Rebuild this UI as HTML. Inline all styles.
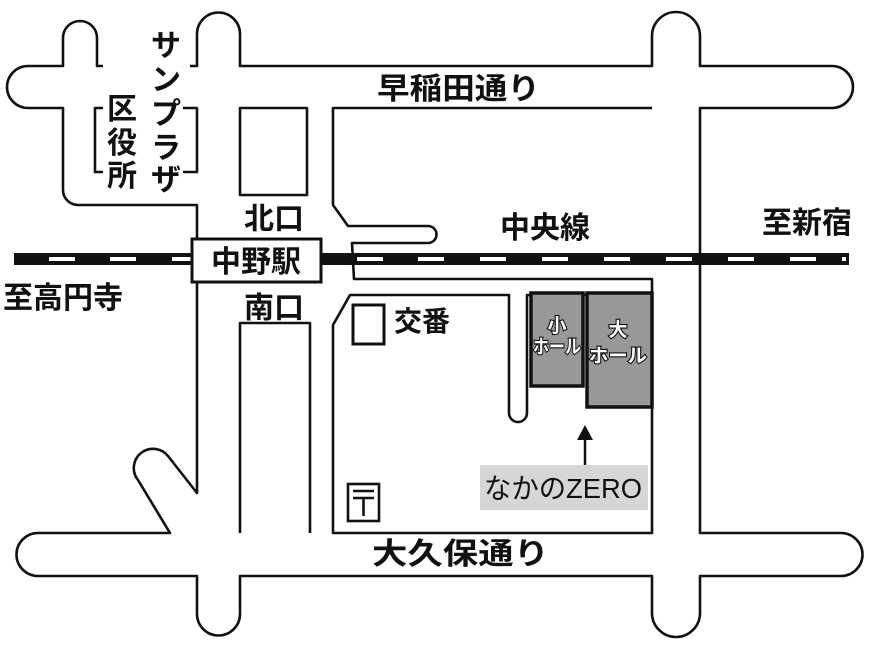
<!DOCTYPE html>
<html><head><meta charset="utf-8"><style>
html,body{margin:0;padding:0;background:#fff;}
svg{display:block;}
text{font-family:"Liberation Sans","Noto Sans CJK JP",sans-serif;fill:#111;}
.h{fill:#fff;stroke:#111;stroke-width:2.2px;paint-order:stroke;font-size:19px;font-weight:bold;}
</style></head><body>
<svg width="875" height="647" viewBox="0 0 875 647" xmlns="http://www.w3.org/2000/svg">
<g fill="none" stroke="#111" stroke-width="2.6" stroke-linejoin="round">
<path d="M103,66 H97 V38 A17,17 0 0 0 63,38 V66 H28 A21,21 0 0 0 28,108 H63 V190 A15,15 0 0 0 78,205 H197 V238"/>
<path d="M190,66 H197 V34 A21.5,21.5 0 0 1 240,34 V66 H652 V36 A24,24 0 0 1 700,36 V66 H832 A21,21 0 0 1 832,108 H700 V533 H841 A21.5,21.5 0 0 1 841,576 H700 V613 A24,24 0 0 1 652,613 V576 H240 V614 A21.5,21.5 0 0 1 197,614 V576 H38 A21.5,21.5 0 0 1 38,533 H170 L138,480 A17,17 0 0 1 168,456 L197,493 V282"/>
<path d="M103,108 H95 V172 H103"/>
<path d="M183,108 H197 V172 H183"/>
<rect x="240" y="108" width="67" height="87"/>
<path d="M240,533 V323 H310 V533"/>
<path d="M652,108 H333 V205 L348,226 H428 A8.5,8.5 0 0 1 428,243 H352 L354,279 H652 V533 H333 V325 L350,295 H509 V413 A9,9 0 0 0 527,413 V295 H652"/>
</g>
<rect x="14" y="253" width="835" height="12" fill="#111"/>
<g fill="#fff">
<rect x="49" y="257" width="26" height="4"/><rect x="110" y="257" width="26" height="4"/><rect x="172" y="257" width="20" height="4"/>
<rect x="357" y="257" width="26" height="4"/><rect x="418" y="257" width="26" height="4"/><rect x="480" y="257" width="26" height="4"/><rect x="542" y="257" width="26" height="4"/><rect x="604" y="257" width="26" height="4"/><rect x="666" y="257" width="26" height="4"/><rect x="728" y="257" width="26" height="4"/><rect x="790" y="257" width="26" height="4"/><rect x="842" y="257" width="4" height="4"/>
</g>
<rect x="192" y="239" width="129" height="43" fill="#fff" stroke="#111" stroke-width="3"/>
<text x="256" y="272" font-size="30" text-anchor="middle" font-weight="bold">中野駅</text>
<rect x="531" y="293" width="52" height="93" fill="#98989a" stroke="#111" stroke-width="3.5"/>
<rect x="587" y="293" width="65" height="114" fill="#98989a" stroke="#111" stroke-width="3.5"/>
<g text-anchor="middle">
<text class="h" x="557" y="332">小</text><text class="h" x="557" y="353" textLength="48" lengthAdjust="spacingAndGlyphs">ホール</text>
<text class="h" x="618" y="336">大</text><text class="h" x="618" y="362" textLength="58" lengthAdjust="spacingAndGlyphs">ホール</text>
</g>
<rect x="353" y="305" width="31" height="39" fill="none" stroke="#111" stroke-width="3"/>
<text x="394" y="331" font-size="28" font-weight="bold">交番</text>
<rect x="348" y="484" width="31" height="37" fill="none" stroke="#111" stroke-width="2.6"/>
<path d="M353,491 H374 M353,498 H374 M363.5,498 V516" stroke="#111" stroke-width="2.6"/>
<path d="M585,466 V438" stroke="#111" stroke-width="2.5"/>
<path d="M577,440 L585,425 L593,440 Z" fill="#111"/>
<rect x="480" y="465" width="168" height="45" fill="#d6d6d6"/>
<text x="484" y="498" font-size="28" textLength="158" lengthAdjust="spacingAndGlyphs">なかのZERO</text>
<g font-size="30" font-weight="bold">
<text x="377" y="99" textLength="163" lengthAdjust="spacingAndGlyphs">早稲田通り</text>
<text x="500" y="238">中央線</text>
<text x="762" y="233">至新宿</text>
<text x="3" y="308">至高円寺</text>
<text x="244" y="229">北口</text>
<text x="244" y="318">南口</text>
<text x="372" y="564" textLength="177" lengthAdjust="spacingAndGlyphs">大久保通り</text>
</g>
<g font-size="30" font-weight="bold" text-anchor="middle">
<text x="166" y="56">サ</text><text x="166" y="90">ン</text><text x="166" y="124">プ</text><text x="166" y="158">ラ</text><text x="166" y="190">ザ</text>
<text x="122" y="119">区</text><text x="122" y="153">役</text><text x="122" y="186">所</text>
</g>
</svg>
</body></html>
